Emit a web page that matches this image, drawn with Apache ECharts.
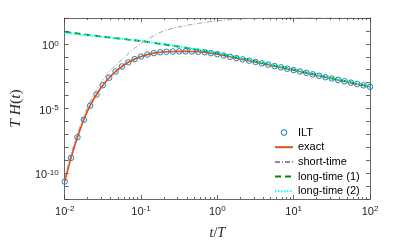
<!DOCTYPE html>
<html><head><meta charset="utf-8">
<script src="https://cdn.jsdelivr.net/npm/echarts@6/dist/echarts.min.js"></script>
<style>html,body{margin:0;padding:0;background:#fff}#c{width:409px;height:245px}</style>
</head><body><div id="c"></div>
<script>
// time grid t/T (12 points per decade)
const tValues = [0.01,0.0121,0.0147,0.0178,0.0215,0.0261,0.0316,0.0383,0.0464,0.0562,0.0681,0.0825,
  0.1,0.121,0.147,0.178,0.215,0.261,0.316,0.383,0.464,0.562,0.681,0.825,
  1,1.21,1.47,1.78,2.15,2.61,3.16,3.83,4.64,5.62,6.81,8.25,
  10,12.1,14.7,17.8,21.5,26.1,31.6,38.3,46.4,56.2,68.1,82.5,100];
// log10 of T H(t)
const iltLog10 = [-10.65,-8.82,-7.22,-5.87,-4.78,-3.92,-3.2,-2.62,-2.14,-1.75,-1.43,-1.18,-0.98,
  -0.83,-0.72,-0.65,-0.61,-0.59,-0.58,-0.58,-0.59,-0.61,-0.65,-0.72,-0.80,
  -0.90,-1.00,-1.10,-1.20,-1.30,-1.40,-1.51,-1.61,-1.72,-1.82,-1.93,-2.03,
  -2.14,-2.25,-2.36,-2.47,-2.58,-2.68,-2.79,-2.89,-3.0,-3.11,-3.21,-3.32];
const exactLog10 = [-10.65,-8.82,-7.22,-5.87,-4.78,-3.92,-3.2,-2.62,-2.14,-1.75,-1.43,-1.18,-0.98,
  -0.83,-0.72,-0.65,-0.61,-0.59,-0.58,-0.58,-0.59,-0.61,-0.65,-0.72,-0.80,
  -0.90,-1.00,-1.10,-1.20,-1.30,-1.40,-1.51,-1.61,-1.72,-1.82,-1.93,-2.03,
  -2.14,-2.25,-2.36,-2.47,-2.58,-2.68,-2.79,-2.89,-3.0,-3.11,-3.21,-3.32];
const shortLog10 = [-10.45,-8.55,-6.95,-5.6,-4.48,-3.55,-2.8,-2.17,-1.65,-1.22,-0.76,-0.34,0.03,
  0.35,0.63,0.88,1.06,1.2,1.31,1.41,1.5,1.58,1.66,1.73,1.79,
  1.83,1.87,1.91,1.94,1.96,1.97,1.99,2.0,2.01,2.02,2.03,2.04,
  2.05,2.05,2.06,2.06,2.07,2.07,2.08,2.08,2.08,2.09,2.09,2.09];
const long1Log10 = [0.92,0.86,0.80,0.74,0.67,0.61,0.55,0.50,0.44,0.39,0.33,0.28,0.22,
  0.15,0.07,0.0,-0.07,-0.15,-0.22,-0.30,-0.39,-0.47,-0.55,-0.64,-0.72,
  -0.83,-0.93,-1.04,-1.15,-1.25,-1.36,-1.47,-1.57,-1.68,-1.79,-1.89,-2.0,
  -2.11,-2.22,-2.33,-2.44,-2.55,-2.66,-2.77,-2.87,-2.98,-3.09,-3.19,-3.3];
const long2Log10 = [0.87,0.81,0.75,0.70,0.64,0.58,0.53,0.48,0.43,0.38,0.33,0.28,0.23,
  0.17,0.09,0.02,-0.05,-0.13,-0.20,-0.28,-0.37,-0.45,-0.53,-0.62,-0.70,
  -0.81,-0.91,-1.02,-1.13,-1.23,-1.34,-1.45,-1.55,-1.66,-1.77,-1.87,-1.98,
  -2.09,-2.20,-2.31,-2.42,-2.53,-2.64,-2.75,-2.85,-2.96,-3.07,-3.17,-3.28];
const seriesNames = ['ILT','exact','short-time','long-time (1)','long-time (2)'];
const xMajorTicks = [0.01,0.1,1,10,100];
const yLabelExponents = [-10,-5,0];

const xMinorTicks = [];
for (let d = -2; d < 2; d++) for (let m = 2; m <= 9; m++) xMinorTicks.push(+(m * Math.pow(10, d)).toPrecision(3));

function pts(arr){ return tValues.map((t,i)=>[t, Math.pow(10, arr[i])]); }

const axisColor = '#404040';
const sans = '"Liberation Sans", Arial, Helvetica, sans-serif';
const serif = '"Liberation Serif", "DejaVu Serif", serif';
const tickRich = {
  b:{fontSize:11, lineHeight:12, padding:[4,0,0,0], verticalAlign:'bottom', color:'#262626', fontFamily:sans},
  s:{fontSize:8, lineHeight:8, verticalAlign:'top', color:'#262626', fontFamily:sans}
};
function expLabel(v){ const e = Math.round(Math.log10(v)); return '{b|10}{s|' + e + '}'; }

function xAx(pos, major){
  return {
    type:'log', min:0.01, max:100, interval:1, position:pos,
    axisLine:{show:major, onZero:false, lineStyle:{color:axisColor, width:0.8}},
    axisTick:{show:true, inside:true, length: major?4:2, customValues: major? xMajorTicks : xMinorTicks,
      lineStyle:{color:axisColor, width:0.8}},
    axisLabel:{show: major && pos==='bottom', margin:6, formatter:expLabel, rich:tickRich},
    splitLine:{show:false}, minorTick:{show:false}
  };
}
function yAx(pos){
  return {
    type:'log', min:1e-12, max:1e2, interval:1, position:pos,
    axisLine:{show:true, onZero:false, lineStyle:{color:axisColor, width:0.8}},
    axisTick:{show:true, inside:true, length:4, lineStyle:{color:axisColor, width:0.8}},
    axisLabel:{show: pos==='left', margin:6, padding:[3,0,0,0], rich:tickRich,
      formatter: v => { const e = Math.round(Math.log10(v)); return yLabelExponents.indexOf(e) >= 0 ? expLabel(v) : ''; }},
    splitLine:{show:false}
  };
}

const nameRich = {i:{fontSize:15.5, fontStyle:'italic', fontFamily:serif, color:'#262626'},
                  r:{fontSize:15.5, fontFamily:serif, color:'#262626'}};
const xAxes = [xAx('bottom',true), xAx('bottom',false), xAx('top',true), xAx('top',false)];
xAxes[0].name = '{i|t}{r|/}{i|T}';
xAxes[0].nameLocation = 'middle';
xAxes[0].nameGap = 27;
xAxes[0].nameTextStyle = {rich:{i:{fontSize:14, fontStyle:'italic', fontFamily:serif, color:'#262626'}, r:{fontSize:14, fontFamily:serif, color:'#262626'}}};
const yAxes = [yAx('left'), yAx('right')];
yAxes[0].name = '{i|T H}{r|(}{i|t}{r|)}';
yAxes[0].nameLocation = 'middle';
yAxes[0].nameGap = 29;
yAxes[0].nameRotate = 90;
yAxes[0].nameTextStyle = {rich:nameRich};

const chart = echarts.init(document.getElementById('c'), null, {renderer:'canvas'});
chart.setOption({
  animation:false,
  backgroundColor:'#fff',
  grid:{left:53, right:39, top:18, bottom:42, containLabel:false},
  xAxis: xAxes,
  yAxis: yAxes,
  legend:{
    orient:'vertical', left:269, top:121, itemWidth:18, itemHeight:7, itemGap:1.7,
    textStyle:{fontSize:11, lineHeight:13, color:'#000', fontFamily:sans},
    data:[
      {name:seriesNames[0], itemStyle:{borderWidth:1}},
      {name:seriesNames[1], itemStyle:{opacity:0}},
      {name:seriesNames[2], itemStyle:{opacity:0}},
      {name:seriesNames[3], itemStyle:{opacity:0}},
      {name:seriesNames[4], itemStyle:{opacity:0}}
    ]
  },
  series:[
    {name:seriesNames[0], type:'line', data:pts(iltLog10), symbol:'circle', symbolSize:5.5, showSymbol:true,
      lineStyle:{opacity:0, width:0}, itemStyle:{color:'rgba(255,255,255,0)', borderColor:'#0072BD', borderWidth:0.9}, z:2},
    {name:seriesNames[1], type:'line', data:pts(exactLog10), symbol:'none', smooth:0.3,
      lineStyle:{color:'#D95319', width:1.7}, itemStyle:{color:'#D95319'}, z:3},
    {name:seriesNames[2], type:'line', data:pts(shortLog10), symbol:'none', smooth:0.3,
      lineStyle:{color:'#8c8c8c', width:0.8, type:[5,2,1,2]}, itemStyle:{color:'#8c8c8c'}, z:3},
    {name:seriesNames[3], type:'line', data:pts(long1Log10), symbol:'none', smooth:0.3,
      lineStyle:{color:'#008a00', width:1.8, type:[6,4]}, itemStyle:{color:'#008a00'}, z:4},
    {name:seriesNames[4], type:'line', data:pts(long2Log10), symbol:'none', smooth:0.3,
      lineStyle:{color:'#00ffff', width:1.8, type:[1.5,1.5]}, itemStyle:{color:'#00ffff'}, z:4}
  ]
});
</script></body></html>
